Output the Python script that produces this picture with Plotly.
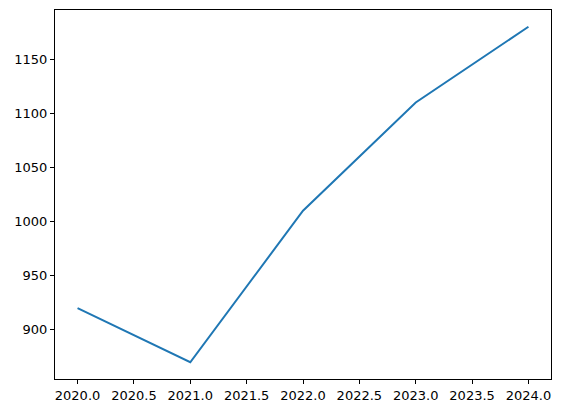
import plotly.graph_objects as go

years = [2020, 2021, 2022, 2023, 2024]
values = [920, 870, 1010, 1110, 1180]

fig = go.Figure()
fig.add_trace(go.Scatter(x=years, y=values, mode="lines",
                         line=dict(color="#1f77b4", width=2)))

axis_style = dict(
    showline=True, linecolor="black", linewidth=1, mirror=True,
    showgrid=False, zeroline=False,
    ticks="outside", ticklen=4, tickwidth=1, tickcolor="black",
    tickfont=dict(family="DejaVu Sans", size=13, color="black"),
)

# page body adds an 8px margin, so the figure is sized to fit inside it
fig.update_layout(
    width=554, height=405,
    margin=dict(l=47, r=11, t=2, b=34),
    paper_bgcolor="white", plot_bgcolor="white",
    showlegend=False,
    xaxis=dict(range=[2019.8, 2024.2], tick0=2020, dtick=0.5,
               tickformat=".1f", **axis_style),
    yaxis=dict(range=[854.5, 1195.5], tick0=900, dtick=50, **axis_style),
)

fig.write_html("out.html")
